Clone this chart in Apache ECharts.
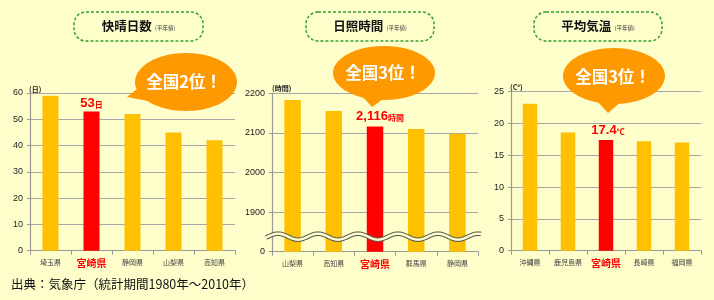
<!DOCTYPE html>
<html><head><meta charset="utf-8">
<script src="https://cdn.jsdelivr.net/npm/echarts@6/dist/echarts.min.js"></script>
<style>html,body{margin:0;padding:0;background:#FFFFCC;}#c{width:714px;height:300px;}</style>
</head><body><div id="c"></div>
<script>
const FONT = '"Noto Sans CJK JP","Noto Sans",sans-serif';
// data
const titles = ['快晴日数','日照時間','平均気温'];
const units = ['(日)','(時間)','(C°)'];
const ranks = ['全国2位！','全国3位！','全国3位！'];
const cat1 = ['埼玉県','宮崎県','静岡県','山梨県','高知県'];
const val1 = [59, 53, 52, 45, 42];
const cat2 = ['山梨県','高知県','宮崎県','群馬県','静岡県'];
const val2 = [2183, 2155, 2116, 2110, 2098];
const cat3 = ['沖縄県','鹿児島県','宮崎県','長崎県','福岡県'];
const val3 = [23.1, 18.6, 17.4, 17.2, 17.0];
const hiName = '宮崎県';
const hiLabels = [['53','日'], ['2,116','時間'], ['17.4','℃']];
const source = '出典：気象庁（統計期間1980年～2010年）';

const grids = [
  {left:30, top:93, width:205, height:157.7},
  {left:272, top:93.3, width:206, height:158.4},
  {left:511, top:91.7, width:190, height:159}
];
const yCfg = [
  {min:0, max:60, interval:10},
  {min:1800, max:2200, interval:100},
  {min:0, max:25, interval:5}
];
const barW = [16, 16.5, 14.5];
const cats = [cat1, cat2, cat3];
const vals = [val1, val2, val3];
const labelOffsets = [[0,2],[5,-1],[2,0]];

const chart = echarts.init(document.getElementById('c'), null, {renderer:'canvas'});
const xAxis = [], yAxis = [], series = [];
for (let i = 0; i < 3; i++) {
  xAxis.push({
    type:'category', gridIndex:i,
    data: cats[i].map(c => c === hiName ? {value:c, textStyle:{color:'#FF0000', fontWeight:'bold', fontSize:10}} : c),
    axisLine:{lineStyle:{color:'#999', width:1.2}},
    axisTick:{show:true, length:4, lineStyle:{color:'#999'}},
    axisLabel:{fontSize:7, color:'#444', margin:8, fontFamily:FONT}
  });
  yAxis.push({
    type:'value', gridIndex:i, min:yCfg[i].min, max:yCfg[i].max, interval:yCfg[i].interval,
    axisLine:{show:true, lineStyle:{color:'#999', width:1.2}},
    axisTick:{show:true, length:3, lineStyle:{color:'#999'}},
    splitLine:{lineStyle:{color:'#A6A6A6', width:1.2}},
    axisLabel:{fontSize:9, color:'#222', margin:7, fontFamily:'"Liberation Sans",sans-serif',
      formatter: i === 1 ? (v => v === 1800 ? '0' : String(v)) : (v => String(v))}
  });
  series.push({
    type:'bar', xAxisIndex:i, yAxisIndex:i, barWidth:barW[i],
    data: vals[i].map((v, k) => cats[i][k] === hiName ? {
      value:v, itemStyle:{color:'#FF0000'},
      label:{show:true, position:'top', distance:3, offset:labelOffsets[i],
        formatter:'{a|' + hiLabels[i][0] + '}{b|' + hiLabels[i][1] + '}',
        rich:{a:{fontSize:13, fontWeight:'bold', color:'#FF0000', fontFamily:'"Liberation Sans",sans-serif'},
              b:{fontSize:8, fontWeight:'bold', color:'#FF0000', fontFamily:FONT, padding:[3,0,0,0]}}}
    } : v),
    itemStyle:{color:'#FFC000'}
  });
}

const graphic = [];
const boxes = [[74,12,129,29],[306,12,128,29],[534,12,128,29]];
boxes.forEach((b, i) => {
  graphic.push({type:'rect', shape:{x:b[0], y:b[1], width:b[2], height:b[3], r:12},
    style:{fill:null, stroke:'#33A033', lineWidth:1.5, lineDash:[3,2]}});
  graphic.push({type:'text', x:b[0]+b[2]/2, y:b[1]+b[3]/2,
    style:{text:'{t|' + titles[i] + '} {s|(平年値)}', align:'center', verticalAlign:'middle',
      rich:{t:{fontSize:12.5, fontWeight:'bold', fill:'#111', fontFamily:FONT},
            s:{fontSize:5.5, fill:'#333', fontFamily:FONT, padding:[3,0,0,0]}}}});
});
// speech bubbles
const bubbles = [
  {cx:186, cy:82, rx:51, ry:29, tail:[[127,97],[137,89],[148,101]], tx:184, ty:82},
  {cx:384, cy:73, rx:51, ry:27, tail:[[372,107],[362,96],[386,97]], tx:383, ty:73},
  {cx:614, cy:76, rx:51, ry:28, tail:[[608,113],[597,101],[622,101]], tx:613, ty:77}
];
bubbles.forEach((b, i) => {
  graphic.push({type:'polygon', shape:{points:b.tail}, style:{fill:'#FF9900'}, z:50});
  graphic.push({type:'ellipse', shape:{cx:b.cx, cy:b.cy, rx:b.rx, ry:b.ry}, style:{fill:'#FF9900'}, z:50});
  graphic.push({type:'text', x:b.tx, y:b.ty, z:51,
    style:{text:ranks[i], fill:'#FFFFFF', fontSize:16.5, fontWeight:'bold', fontFamily:FONT, align:'center', verticalAlign:'middle'}});
});
// unit labels
const unitPos = [[29,89],[272,88.5],[510,87.5]];
unitPos.forEach((p, i) => {
  graphic.push({type:'text', x:p[0], y:p[1], style:{text:units[i], fontSize:7, fontWeight:'bold', fill:'#222', fontFamily:FONT, verticalAlign:'middle'}});
});
graphic.push({type:'text', x:11, y:284, style:{text:source, fontSize:12.5, fill:'#111', fontFamily:FONT, verticalAlign:'middle'}});

chart.setOption({
  backgroundColor:'#FFFFCC',
  animation:false,
  grid: grids,
  xAxis, yAxis, series,
  graphic
});

// axis-break wave on the second chart
const wy = chart.convertToPixel({yAxisIndex:1}, 1838);
const pts = [];
for (let x = 266; x <= 481; x += 1) {
  pts.push([x, wy + 3 * Math.sin((x - 268) / 40 * 2 * Math.PI + Math.PI)]);
}
graphic.push({type:'polyline', shape:{points:pts}, style:{stroke:'#555', lineWidth:4.5, fill:null}, z:40});
graphic.push({type:'polyline', shape:{points:pts}, style:{stroke:'#FFFFCC', lineWidth:2.5, fill:null}, z:41});
chart.setOption({graphic});
</script>
</body></html>
